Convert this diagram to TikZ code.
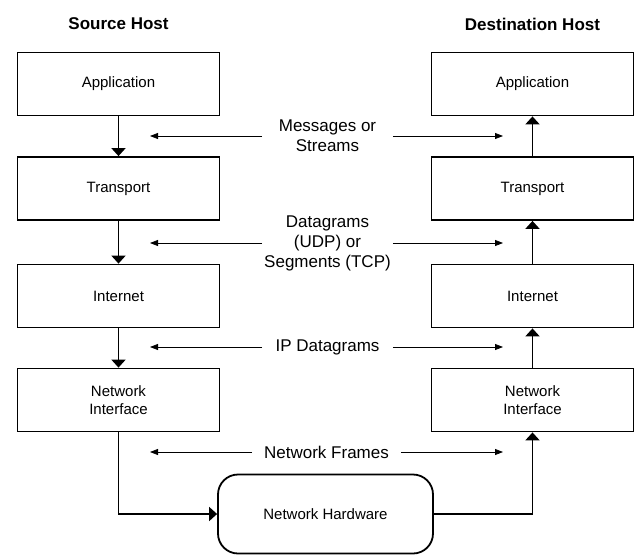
\documentclass[tikz,border=0pt]{standalone}
\usepackage{fontspec}
\setmainfont{Liberation Sans}
\usetikzlibrary{arrows.meta,calc,positioning}
\newcommand{\arrtip}{Triangle[width=14pt,length=8pt]}
\newcommand{\thintip}{Triangle[width=6pt,length=8pt]}

\begin{document}
\begin{tikzpicture}
[x=1pt,y=-1pt,line width=1.8pt,
 layer/.style={draw,rectangle,minimum width=202pt,minimum height=63pt,inner sep=0pt,align=center,font=\fontsize{15}{18}\selectfont},
 wire/.style={draw,rectangle,rounded corners=20pt,minimum width=215pt,minimum height=79pt,font=\fontsize{15}{18}\selectfont},
 pdu/.style={inner sep=0pt,align=center,font=\fontsize{17}{20}\selectfont},
 host/.style={font=\bfseries\fontsize{17}{20}\selectfont},
 flow/.style={-{\arrtip},line width=1.8pt},
 unit/.style={-{\thintip},line width=0.8pt}]
\useasboundingbox (0,0) rectangle (635,555);

\node[host] (src) at (118.5,24) {Source Host};
\node[host] (dst) at (532.5,24) {Destination Host};

% sending side
\node[layer] (app1) at (118.5,84) {Application};
\node[layer] (tr1) at (118.5,188.5) {Transport};
\node[layer] (ip1) at (118.5,296) {Internet};
\node[layer] (ni1) at (118.5,400) {Network\\Interface};

% receiving side
\node[layer] (app2) at (532.5,84) {Application};
\node[layer] (tr2) at (532.5,188.5) {Transport};
\node[layer] (ip2) at (532.5,296) {Internet};
\node[layer] (ni2) at (532.5,400) {Network\\Interface};

\node[wire] (hw) at (325.5,514) {Network Hardware};

% what travels between the layers
\node[pdu,minimum width=129pt] (msg) at (327.5,136) {Messages or\\Streams};
\node[pdu,minimum width=129pt] (dgm) at (327.5,243) {Datagrams\\(UDP) or\\Segments (TCP)};
\node[pdu,minimum width=129pt] (ipd) at (327.5,347) {IP Datagrams};
\node[pdu,minimum width=147pt] (frm) at (326.5,452) {Network Frames};

\coordinate (lftip) at (150,0);
\coordinate (rgtip) at (503,0);

\foreach \u in {msg,dgm,ipd,frm} {
  \draw[unit] (\u.west) -- (\u.west -| lftip);
  \draw[unit] (\u.east) -- (\u.east -| rgtip);
}

% down the source stack, across the wire, up the destination stack
\draw[flow] (app1) -- (tr1);
\draw[flow] (tr1) -- (ip1);
\draw[flow] (ip1) -- (ni1);
\draw[flow] (ni1.south) |- (hw.west);
\draw[flow] (hw.east) -| (ni2.south);
\draw[flow] (ni2) -- (ip2);
\draw[flow] (ip2) -- (tr2);
\draw[flow] (tr2) -- (app2);
\end{tikzpicture}
\end{document}
